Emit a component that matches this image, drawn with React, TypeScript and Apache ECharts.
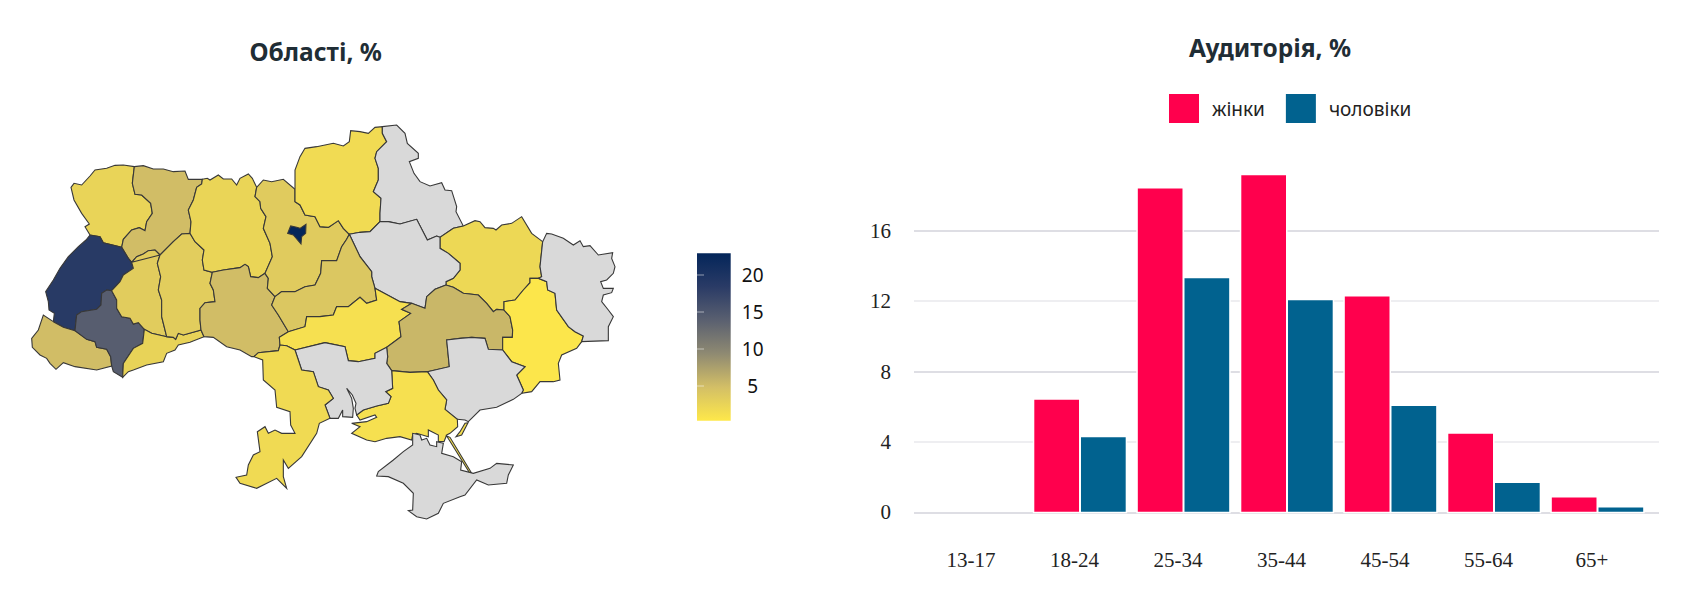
import React, { useEffect, useRef } from "react";
import * as echarts from "echarts";

// ---------- bar chart data ----------
const ageGroups = ["13-17", "18-24", "25-34", "35-44", "45-54", "55-64", "65+"];
const women = [null, 6.54, 18.54, 19.29, 12.41, 4.61, 0.99];
const men = [null, 4.4, 13.44, 12.19, 6.18, 1.81, 0.42];
const scaleTicks = [5, 10, 15, 20];
const scaleMin = 0.31;
const scaleMax = 22.93;

// ---------- map data ----------
const regionValues: [string, number | null][] = [
  ["Волинська", 2.5], ["Рівненська", 5], ["Львівська", 18.7], ["Закарпатська", 5],
  ["Івано-Франківська", 14.2], ["Тернопільська", 3.4], ["Чернівецька", 2.6], ["Хмельницька", 3.3],
  ["Житомирська", 2.4], ["Вінницька", 5], ["Київська", 3.5], ["Чернігівська", 1.7],
  ["Сумська", null], ["Харківська", 2.1], ["Полтавська", null], ["Черкаська", 4],
  ["Кіровоградська", 1.2], ["Дніпропетровська", 5.5], ["Донецька", 0.5], ["Луганська", null],
  ["Запорізька", null], ["Херсонська", 1.2], ["Миколаївська", null], ["Одеська", 1.8],
  ["АР Крим", null], ["Київ", 22.93],
];

type Pt = [number, number];
const z1 = (p: Pt[]): Pt[] => p.map(([x, y]) => [x / 3, (300 + y) / 3]);
const z2 = (p: Pt[]): Pt[] => p.map(([x, y]) => [(960 + x) / 3, (300 + y) / 3]);
const z3 = (p: Pt[]): Pt[] => p.map(([x, y]) => [(660 + x) / 3, (960 + y) / 3]);

const arcs: Record<string, Pt[]> = {
  volN: z1([[403,200],[370,195],[345,196],[320,205],[285,210],[270,228],[245,255],[222,250],[213,262],[222,300],[245,340],[268,372],[255,380],[270,405]]),
  volLvi: z1([[270,405],[300,410],[310,428],[365,442]]),
  volRiv: z1([[365,442],[370,418],[395,390],[418,383],[435,392],[440,365],[457,340],[452,310],[425,285],[405,283],[397,250],[403,200]]),
  rivN: z1([[403,200],[430,197],[460,207],[490,207],[520,215],[555,213],[565,238],[607,238]]),
  rivZhy: z1([[607,238],[605,252],[590,262],[580,300],[565,330],[573,365],[570,400]]),
  rivKhm: z1([[570,400],[545,402],[520,425],[480,465]]),
  rivTer: z1([[480,465],[465,450],[445,452],[430,462],[410,470],[395,487]]),
  rivLvi: z1([[395,487],[385,475],[365,442]]),
  lviW: z1([[270,405],[258,420],[235,440],[205,470],[180,505],[160,540],[137,575],[145,605],[147,630],[163,640],[160,665]]),
  lviZak: z1([[160,665],[190,682],[225,692]]),
  lviIF: z1([[225,692],[230,645],[245,635],[290,628],[303,615],[305,580],[320,570],[335,572]]),
  lviTer: z1([[335,572],[360,545],[370,525],[400,505],[395,487]]),
  zakW: z1([[160,665],[130,645],[115,690],[95,715],[97,742],[120,765],[140,775],[150,790],[168,808],[190,788],[225,800],[290,810],[335,798]]),
  zakIF: z1([[225,692],[260,718],[285,725],[290,742],[320,748],[332,770],[335,798]]),
  ifTer: z1([[335,572],[350,600],[350,625],[365,650],[390,655],[400,672],[415,668],[433,688]]),
  ifChe: z1([[433,688],[428,730],[400,745],[370,790],[368,832]]),
  ifS: z1([[368,832],[340,815],[335,798]]),
  terChe: z1([[433,688],[455,700],[500,710]]),
  terKhm: z1([[480,465],[472,490],[482,530],[475,570],[485,600],[485,650],[500,710]]),
  cheS: z1([[368,832],[385,815],[400,810],[440,795],[490,785],[500,760],[525,750],[535,735],[570,727],[612,710]]),
  cheKhm: z1([[500,710],[520,712],[527,718],[535,700],[550,705],[603,690]]),
  cheVin: z1([[603,690],[612,710]]),
  khmVin: z1([[603,690],[600,660],[600,625],[615,608],[645,605],[640,570],[630,550],[637,517]]),
  khmZhy: z1([[637,517],[612,510],[607,480],[612,450],[585,425],[570,400]]),
  zhyN: z1([[607,238],[622,235],[630,240],[655,225],[670,237],[695,237],[710,255],[720,235],[745,222],[757,235],[770,262]]),
  zhyKyi: z1([[770,262],[765,290],[780,305],[782,325],[798,350],[790,385],[810,430],[817,470],[795,520]]),
  zhyVin: z1([[795,520],[775,533],[752,530],[745,500],[735,493],[720,503],[670,510],[637,517]]),
  vinS: z1([[612,710],[640,712],[680,740],[720,750],[755,770],[762,770]]),
  vinOde: z1([[762,770],[775,758],[835,752],[840,735]]),
  vinKir: z1([[840,735],[838,712],[865,695]]),
  vinChe: z1([[825,590],[815,615],[835,645],[865,695]]),
  vinKyi: z1([[795,520],[805,535],[802,565],[825,590]]),
  kyiN: z1([[770,262],[790,240],[815,245],[850,238],[885,268]]),
  kyiChe: z1([[885,268],[885,305],[900,315],[915,345],[945,350],[960,380],[985,382],[1015,362],[1030,385],[1048,403]]),
  kyiChk: z1([[825,590],[845,575],[885,575],[915,560],[945,555],[962,520],[965,482],[990,482],[1010,482],[1025,440],[1040,418],[1048,403]]),
  cheN: z1([[885,268],[885,235],[885,210],[900,170],[915,145],[950,140],[1000,130],[1030,138],[1048,125],[1052,92],[1080,95],[1105,100],[1125,82],[1147,80]]),
  cheE: z2([[187,80],[187,100],[200,125],[170,155],[165,175],[175,205],[175,240],[160,275],[183,295],[180,340],[180,365]]),
  chePol: z2([[180,365],[150,395],[120,397],[88,403]]),
  sumN: z2([[187,80],[230,75],[255,100],[262,130],[295,160],[295,175],[268,185],[282,220],[300,245],[330,258],[365,248],[375,270],[395,272],[410,320],[408,335],[430,378]]),
  sumKha: z2([[430,378],[400,385],[360,412]]),
  sumPol: z2([[360,412],[350,408],[322,420],[290,358],[240,372],[205,365],[180,365]]),
  khaN: z2([[430,378],[465,362],[480,365],[495,383],[520,385],[528,390],[545,375],[575,370],[605,350],[635,400],[668,425]]),
  khaLug: z2([[668,425],[660,500],[665,530],[655,535]]),
  khaDon: z2([[655,535],[630,535],[630,548],[610,570],[585,600],[552,605],[552,630]]),
  khaDni: z2([[552,630],[530,628],[520,635],[500,610],[475,585],[430,580],[400,562],[378,555]]),
  khaPol: z2([[378,555],[378,545],[400,535],[420,510],[420,490],[385,460],[360,445],[360,412]]),
  polDni: z2([[378,555],[345,568],[320,590],[315,625],[275,610]]),
  polKir: z2([[275,610],[240,605],[165,565]]),
  polChk: z2([[165,565],[155,530],[155,515],[120,470],[88,403]]),
  chkKir: z1([[1125,565],[1130,600],[1100,610],[1080,592],[1045,620],[1010,620],[1000,645],[960,650],[920,650],[915,680],[865,695]]),
  kirDni: z2([[275,610],[245,628],[272,640],[237,665],[243,710],[200,742]]),
  kirMyk: z3([[225,90],[315,68],[375,80],[385,122],[415,125],[465,115],[465,100],[500,82]]),
  kirOde: z3([[225,90],[200,77],[180,75]]),
  dniMyk: z3([[500,82],[503,110],[500,130],[515,152]]),
  dniKhe: z3([[515,152],[570,157],[622,155]]),
  dniZap: z3([[622,155],[688,140],[680,60],[720,55],[755,52],[795,55],[805,88],[848,90]]),
  dniDon: z2([[548,750],[548,712],[577,712],[578,690],[570,650],[552,630]]),
  donLug: z2([[655,535],[680,545],[683,570],[705,580],[710,630],[745,680],[765,695],[790,708],[785,725]]),
  donS: z2([[785,725],[770,745],[725,765],[715,790],[720,840],[700,845],[660,845],[635,875],[605,880]]),
  donZap: z2([[605,880],[610,870],[590,825],[615,800],[575,785],[548,750]]),
  lugN: z2([[668,425],[680,400],[695,402],[730,415],[760,435],[780,422],[790,440],[810,437],[835,465],[878,458],[875,475],[885,500],[880,520],[860,540],[842,545],[850,565],[880,565],[875,578],[850,585],[845,605],[865,630],[880,650],[865,680],[865,722],[785,725]]),
  zapS: z3([[905,220],[880,238],[830,262],[780,270],[745,305],[735,300],[712,298]]),
  zapKhe: z3([[712,298],[675,268],[680,240],[655,210],[640,180],[622,155]]),
  kheCoast: z3([[712,298],[713,320],[690,340],[680,345],[672,365],[655,365],[655,345],[625,330],[625,350],[590,340],[578,345],[575,360],[540,350],[500,355],[465,365],[440,360],[395,340],[420,320],[395,310],[440,305],[470,292],[465,285],[420,300],[410,285]]),
  mykKhe: z3([[515,152],[518,205],[497,215],[513,230],[505,250],[470,258],[430,270],[410,285]]),
  mykCoast: z3([[410,285],[405,265],[408,250],[397,225],[380,205],[395,235],[400,265],[398,292],[368,290],[368,270],[355,295],[330,295]]),
  mykOde: z3([[225,90],[245,150],[280,155],[295,200],[325,210],[340,235],[315,255],[330,295]]),
  odeCoast: z3([[330,295],[298,310],[290,340],[245,410],[205,445],[190,420],[190,470],[200,505],[170,475],[110,505],[60,490],[48,472],[80,465],[85,435],[100,405],[120,395],[112,335],[135,320],[145,340],[165,330],[185,340],[225,340],[212,315],[210,275],[170,262],[165,210],[130,180],[128,120],[102,110]]),
};

const regionArcs: Record<string, string[]> = {
  "Волинська": ["volN", "volLvi", "volRiv"],
  "Рівненська": ["rivN", "rivZhy", "rivKhm", "rivTer", "rivLvi", "volRiv"],
  "Львівська": ["lviW", "lviZak", "lviIF", "lviTer", "rivLvi", "-volLvi"],
  "Закарпатська": ["zakW", "-zakIF", "-lviZak"],
  "Івано-Франківська": ["lviIF", "ifTer", "ifChe", "ifS", "-zakIF"],
  "Тернопільська": ["-lviTer", "ifTer", "terChe", "-terKhm", "-rivTer"],
  "Чернівецька": ["-ifChe", "terChe", "cheKhm", "cheVin", "-cheS"],
  "Хмельницька": ["terKhm", "cheKhm", "khmVin", "khmZhy", "rivKhm"],
  "Житомирська": ["zhyN", "zhyKyi", "zhyVin", "khmZhy", "-rivZhy"],
  "Вінницька": ["-khmVin", "cheVin", "vinS", "vinOde", "vinKir", "-vinChe", "-vinKyi", "zhyVin"],
  "Київська": ["kyiN", "kyiChe", "-kyiChk", "-vinKyi", "-zhyKyi"],
  "Чернігівська": ["cheN", "cheE", "chePol", "-kyiChe"],
  "Сумська": ["sumN", "sumKha", "sumPol", "-cheE"],
  "Харківська": ["khaN", "khaLug", "khaDon", "khaDni", "khaPol", "-sumKha"],
  "Полтавська": ["-chePol", "-sumPol", "-khaPol", "polDni", "polKir", "polChk"],
  "Черкаська": ["kyiChk", "-polChk", "chkKir", "-vinChe"],
  "Кіровоградська": ["-chkKir", "-polKir", "kirDni", "-kirMyk", "kirOde", "vinKir"],
  "Дніпропетровська": ["polDni", "kirDni", "dniMyk", "dniKhe", "dniZap", "dniDon", "khaDni"],
  "Донецька": ["-khaDon", "donLug", "donS", "donZap", "dniDon"],
  "Луганська": ["lugN", "-donLug", "-khaLug"],
  "Запорізька": ["dniZap", "-donZap", "zapS", "zapKhe"],
  "Херсонська": ["dniKhe", "-zapKhe", "kheCoast", "-mykKhe"],
  "Миколаївська": ["kirMyk", "dniMyk", "mykKhe", "mykCoast", "-mykOde"],
  "Одеська": ["vinOde", "-kirOde", "mykOde", "odeCoast"],
};

const crimea = z3([[578,340],[578,375],[550,395],[520,420],[475,455],[470,468],[505,470],[550,490],[580,520],[578,570],[565,572],[590,590],[620,597],[655,580],[670,550],[720,530],[735,525],[770,480],[805,495],[860,490],[865,465],[880,435],[830,430],[810,445],[760,460],[722,450],[725,425],[700,410],[665,400],[670,370],[650,365],[650,380],[630,375],[620,355],[605,360],[600,345]]);
const kyivCity = z1([[865,395],[872,378],[890,382],[900,385],[918,373],[917,400],[905,410],[903,432],[880,405],[863,400]]);
const arabatSpit = z3([[680,348],[690,352],[755,460],[749,459]]);
const arabatTip = z3([[735,310],[744,308],[725,345],[708,350],[720,335]]);

const expand = (names: string[]): Pt[] => {
  const out: Pt[] = [];
  names.forEach((n) => {
    const rev = n[0] === "-";
    const a = arcs[rev ? n.slice(1) : n];
    out.push(...(rev ? [...a].reverse() : a));
  });
  return out;
};
const toGeo = (ring: Pt[]) => {
  const r = ring.map(([x, y]) => [x, -y]);
  r.push(r[0]);
  return r;
};

const features: any[] = Object.keys(regionArcs).map((name) => {
  const ring = toGeo(expand(regionArcs[name]));
  return {
    type: "Feature",
    properties: { name },
    geometry:
      name === "Херсонська"
        ? { type: "MultiPolygon", coordinates: [[ring], [toGeo(arabatSpit)], [toGeo(arabatTip)]] }
        : { type: "Polygon", coordinates: [ring] },
  };
});
features.push({ type: "Feature", properties: { name: "АР Крим" }, geometry: { type: "Polygon", coordinates: [toGeo(crimea)] } });
features.push({ type: "Feature", properties: { name: "Київ" }, geometry: { type: "Polygon", coordinates: [toGeo(kyivCity)] } });

const allPts: Pt[] = [...Object.values(arcs).flat(), ...crimea];
const xs = allPts.map((p) => p[0]);
const ys = allPts.map((p) => p[1]);
const mapLeft = Math.min(...xs);
const mapTop = Math.min(...ys);
const mapWidth = Math.max(...xs) - mapLeft;
const mapHeight = Math.max(...ys) - mapTop;

const scaleColors = ["#FEE84A", "#D3BF66", "#8F8A72", "#5A6070", "#2A3B66", "#04265A"];

export default function App() {
  const ref = useRef<HTMLDivElement>(null);
  useEffect(() => {
    const chart = echarts.init(ref.current!, undefined, { renderer: "svg" });
    echarts.registerMap("ua", { type: "FeatureCollection", features } as any);
    const serif = "Liberation Serif";
    const sans = "Noto Sans";
    chart.setOption({
      animation: false,
      backgroundColor: "#fff",
      title: [
        { text: "Області, %", left: 249.5, top: 39, padding: 0, textStyle: { fontFamily: sans, fontWeight: "bold", fontSize: 24.5, color: "#1f2d35" } },
        { text: "Аудиторія, %", left: 1189, top: 35, padding: 0, textStyle: { fontFamily: sans, fontWeight: "bold", fontSize: 24.5, color: "#1f2d35" } },
      ],
      legend: {
        data: ["жінки", "чоловіки"],
        left: 1169,
        top: 94,
        padding: 0,
        itemWidth: 30,
        itemHeight: 29,
        itemGap: 21,
        icon: "rect",
        itemStyle: { borderWidth: 0 },
        textStyle: { fontFamily: sans, fontSize: 19, color: "#222", padding: [0, 0, 0, 8] },
        selectedMode: false,
      },
      visualMap: {
        show: false,
        seriesIndex: 2,
        min: scaleMin,
        max: scaleMax,
        inRange: { color: scaleColors },
      },
      grid: [
        { left: 914, top: 160.3, width: 745, height: 352 },
        { left: 924.75, top: 161.3, width: 724.5, height: 352 },
        {
          left: 697,
          top: 253.3,
          width: 33.7,
          height: 167.4,
          show: true,
          borderWidth: 0,
          backgroundColor: new echarts.graphic.LinearGradient(0, 1, 0, 0, scaleColors.map((color, i) => ({ offset: i / (scaleColors.length - 1), color }))),
        },
      ],
      xAxis: [
        { gridIndex: 0, type: "value", show: false, min: 0, max: 1 },
        {
          gridIndex: 1,
          type: "category",
          data: ageGroups,
          axisLine: { show: false },
          axisTick: { show: false },
          axisLabel: { margin: 36, color: "#222", fontFamily: serif, fontSize: 21, padding: [0, 11, 0, 0] },
        },
        { gridIndex: 2, type: "value", show: false, min: 0, max: 1 },
      ],
      yAxis: [
        {
          gridIndex: 0,
          type: "value",
          min: 0,
          max: 20,
          interval: 4,
          axisLine: { show: false },
          axisTick: { show: false },
          axisLabel: { margin: 23, color: "#222", fontFamily: serif, fontSize: 21, showMaxLabel: false },
          splitLine: { show: true, showMaxLine: false, lineStyle: { color: ["#d3d3db", "#e8e8ec"], width: 1.6 } },
        },
        { gridIndex: 1, type: "value", min: 0, max: 20, interval: 4, show: false },
        {
          gridIndex: 2,
          type: "value",
          position: "right",
          min: scaleMin,
          max: scaleMax,
          axisLine: { show: false },
          splitLine: { show: false },
          axisTick: { show: true, inside: true, length: 7, customValues: scaleTicks, lineStyle: { color: "rgba(255,255,255,0.35)", width: 1.5 } },
          axisLabel: { margin: 22, align: "center", color: "#111", fontFamily: sans, fontSize: 19, customValues: scaleTicks },
        },
        {
          gridIndex: 2,
          type: "value",
          position: "left",
          min: scaleMin,
          max: scaleMax,
          axisLine: { show: false },
          splitLine: { show: false },
          axisLabel: { show: false },
          axisTick: { show: true, inside: true, length: 7, customValues: scaleTicks, lineStyle: { color: "rgba(255,255,255,0.35)", width: 1.5 } },
        },
      ],
      series: [
        { name: "жінки", type: "bar", xAxisIndex: 1, yAxisIndex: 1, data: women, barWidth: 47.7, barGap: "-2.1%", z: 3, itemStyle: { color: "#FF004D", borderColor: "#fff", borderWidth: 1.5 } },
        { name: "чоловіки", type: "bar", xAxisIndex: 1, yAxisIndex: 1, data: men, barWidth: 47.7, barGap: "-2.1%", z: 3, itemStyle: { color: "#01628F", borderColor: "#fff", borderWidth: 1.5 } },
        {
          name: "Області",
          type: "map",
          map: "ua",
          aspectScale: 1,
          left: mapLeft,
          top: mapTop,
          width: mapWidth,
          height: mapHeight,
          silent: true,
          roam: false,
          showLegendSymbol: false,
          label: { show: false },
          itemStyle: { areaColor: "#d9d9d9", borderColor: "#383838", borderWidth: 1.1 },
          data: regionValues.map(([name, value]) => ({ name, value })),
        },
      ],
    });
    return () => chart.dispose();
  }, []);
  return <div ref={ref} style={{ position: "fixed", left: 0, top: 0, width: 1704, height: 607 }} />;
}
